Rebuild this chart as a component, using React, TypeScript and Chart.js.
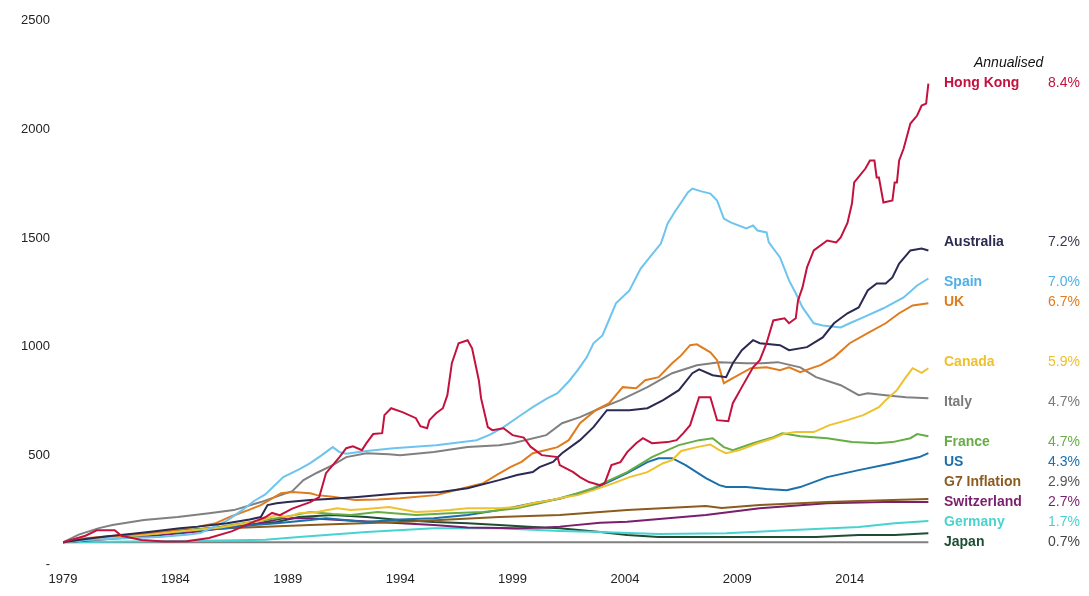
import React, { useEffect, useRef } from 'react';
import { Chart, registerables, ChartConfiguration, Plugin } from 'chart.js';

Chart.register(...registerables);

type Pt = [number, number];

const yearTicks = [1979, 1984, 1989, 1994, 1999, 2004, 2009, 2014];
const valueTicks = [0, 500, 1000, 1500, 2000, 2500];

const countries = ['Hong Kong', 'Australia', 'Spain', 'UK', 'Canada', 'Italy', 'France', 'US', 'G7 Inflation', 'Switzerland', 'Germany', 'Japan'];
const annualised = ['8.4%', '7.2%', '7.0%', '6.7%', '5.9%', '4.7%', '4.7%', '4.3%', '2.9%', '2.7%', '1.7%', '0.7%'];
// where each name sits on the right, in index units
const labelValues = [2215, 1480, 1296, 1204, 928, 745, 561, 469, 377, 285, 193, 101];

const hongKong: Pt[] = [
  [1979, 100], [1980, 130], [1980.5, 155], [1981.3, 155], [1981.6, 130], [1982.5, 110], [1983.5, 103], [1984.5, 105],
  [1985.5, 120], [1986.5, 150], [1987.5, 195], [1988, 215], [1988.3, 235], [1988.65, 225], [1989.2, 255], [1990, 285],
  [1990.4, 308], [1990.7, 418], [1991.3, 492], [1991.6, 533], [1991.9, 542], [1992.3, 524], [1992.5, 556], [1992.8, 598],
  [1993.2, 602], [1993.3, 685], [1993.6, 717], [1994.1, 699], [1994.7, 671], [1994.9, 634], [1995.2, 625], [1995.3, 662],
  [1995.6, 694], [1995.9, 717], [1996.1, 777], [1996.3, 924], [1996.6, 1016], [1997, 1030], [1997.2, 993], [1997.5, 846],
  [1997.6, 763], [1997.9, 630], [1998.1, 616], [1998.6, 625], [1999, 593], [1999.5, 582], [1999.8, 540], [2000.3, 501],
  [2001, 492], [2001.1, 455], [2001.7, 423], [2002, 400], [2002.4, 377], [2002.9, 363], [2003.1, 372], [2003.4, 455],
  [2003.8, 469], [2004.1, 515], [2004.5, 556], [2004.8, 579], [2005.2, 556], [2005.9, 561], [2006.3, 570], [2006.6, 602],
  [2006.9, 639], [2007.3, 768], [2007.8, 768], [2008.1, 662], [2008.6, 657], [2008.8, 740], [2009.2, 814], [2009.7, 905],
  [2010, 938], [2010.3, 1016], [2010.6, 1121], [2011.1, 1131], [2011.3, 1108], [2011.6, 1131], [2011.7, 1213], [2011.9, 1273],
  [2012.1, 1365], [2012.4, 1443], [2013, 1489], [2013.4, 1480], [2013.6, 1503], [2013.9, 1570], [2014.1, 1659], [2014.2, 1756],
  [2014.7, 1820], [2014.9, 1857], [2015.1, 1857], [2015.2, 1779], [2015.3, 1779], [2015.5, 1664], [2015.9, 1673], [2016, 1756],
  [2016.1, 1756], [2016.2, 1857], [2016.4, 1912], [2016.7, 2027], [2017, 2064], [2017.2, 2110], [2017.4, 2119], [2017.5, 2211],
];

const australia: Pt[] = [
  [1979, 100], [1980, 115], [1981, 128], [1982, 138], [1983, 150], [1984.2, 165], [1985, 172], [1986.3, 188],
  [1987.3, 205], [1987.8, 216], [1988.1, 271], [1988.5, 280], [1989, 285], [1990, 294], [1991, 300], [1992.1, 308],
  [1994, 326], [1995.8, 331], [1997, 349], [1998.4, 386], [1999.2, 410], [1999.9, 423], [2000.2, 446], [2000.8, 470],
  [2001.2, 510], [2002, 570], [2002.6, 630], [2003.2, 708], [2004.2, 708], [2005, 717], [2005.7, 754], [2006.4, 800],
  [2007, 878], [2007.3, 896], [2007.9, 869], [2008.5, 860], [2008.8, 924], [2009.2, 984], [2009.7, 1030], [2010, 1016],
  [2010.9, 1007], [2011.3, 984], [2012.1, 998], [2012.8, 1043], [2013.3, 1108], [2013.9, 1154], [2014.4, 1181], [2014.8, 1259],
  [2015.2, 1291], [2015.6, 1291], [2015.9, 1319], [2016.2, 1383], [2016.7, 1443], [2017.2, 1452], [2017.5, 1443],
];

const spain: Pt[] = [
  [1979, 100], [1980, 110], [1981, 115], [1982, 120], [1983.3, 124], [1984.5, 135], [1985.1, 142], [1985.8, 175],
  [1986.3, 200], [1987, 250], [1987.5, 290], [1988, 320], [1988.8, 400], [1989.5, 435], [1990, 464], [1990.5, 500],
  [1991, 538], [1991.3, 515], [1991.6, 508], [1992.5, 520], [1993.7, 533], [1995.6, 547], [1997.4, 570], [1998, 595],
  [1998.6, 630], [1999.3, 680], [1999.9, 722], [2000.5, 760], [2001, 786], [2001.5, 840], [2001.9, 892], [2002.3, 951],
  [2002.6, 1016], [2003, 1052], [2003.6, 1200], [2004.2, 1259], [2004.7, 1360], [2005.1, 1411], [2005.6, 1475], [2005.9, 1567],
  [2006.2, 1618], [2006.5, 1664], [2006.8, 1710], [2007, 1728], [2007.4, 1715], [2007.8, 1705], [2008.1, 1673], [2008.4, 1590],
  [2008.7, 1572], [2009.4, 1544], [2009.7, 1558], [2009.9, 1535], [2010.3, 1526], [2010.4, 1480], [2010.9, 1411], [2011.3, 1305],
  [2011.6, 1246], [2011.9, 1181], [2012.4, 1108], [2012.8, 1098], [2013.6, 1089], [2014, 1108], [2014.6, 1135], [2015.5, 1177],
  [2016.4, 1227], [2017, 1282], [2017.5, 1314],
];

const uk: Pt[] = [
  [1979, 100], [1980, 118], [1981, 128], [1982, 135], [1983, 145], [1984, 158], [1985, 172], [1985.8, 188],
  [1986.5, 220], [1987.3, 250], [1987.8, 271], [1988.7, 326], [1989.2, 331], [1990, 326], [1990.3, 317], [1991, 310],
  [1992, 294], [1993, 297], [1994, 303], [1995.6, 317], [1996.8, 349], [1997.7, 372], [1998.3, 410], [1998.9, 446],
  [1999.4, 470], [1999.9, 510], [2000.5, 525], [2001, 538], [2001.5, 570], [2002, 648], [2002.7, 708], [2003.3, 740],
  [2003.9, 814], [2004.5, 809], [2004.9, 846], [2005.5, 860], [2006.1, 924], [2006.5, 960], [2006.9, 1007], [2007.2, 1011],
  [2007.8, 974], [2008.1, 938], [2008.4, 832], [2008.8, 855], [2009.6, 901], [2010.3, 905], [2010.9, 892], [2011.3, 905],
  [2011.8, 883], [2012.4, 905], [2012.7, 915], [2013.3, 951], [2014, 1016], [2014.8, 1062], [2015.6, 1108], [2016.2, 1154],
  [2016.8, 1190], [2017.5, 1200],
];

const canada: Pt[] = [
  [1979, 100], [1980, 112], [1981, 122], [1982, 130], [1983, 138], [1984, 148], [1985, 158], [1986, 168],
  [1987, 185], [1987.8, 200], [1988.5, 225], [1989, 215], [1989.5, 234], [1990.3, 239], [1991.2, 257], [1991.8, 248],
  [1992.5, 253], [1993.5, 262], [1994.7, 239], [1995.5, 243], [1996.2, 248], [1997, 257], [1998.4, 257], [1999.2, 262],
  [1999.9, 280], [2000.7, 294], [2001.4, 308], [2001.9, 317], [2002.6, 340], [2003.5, 372], [2004.2, 400], [2005, 423],
  [2005.7, 464], [2006.1, 478], [2006.5, 520], [2007.2, 538], [2007.8, 550], [2008.2, 524], [2008.5, 510], [2009.1, 524],
  [2009.9, 556], [2010.6, 579], [2011.1, 600], [2011.6, 607], [2012.4, 607], [2013.1, 639], [2013.9, 662], [2014.6, 685],
  [2015.3, 722], [2015.6, 754], [2016.1, 800], [2016.5, 860], [2016.8, 901], [2017.2, 880], [2017.5, 901],
];

const italy: Pt[] = [
  [1979, 100], [1979.7, 135], [1980.6, 165], [1981.2, 179], [1982.6, 202], [1984.1, 216], [1985.5, 234], [1986.6, 248],
  [1987.8, 285], [1988.3, 303], [1989.2, 335], [1989.7, 386], [1990.3, 420], [1991, 455], [1991.6, 492], [1992.5, 510],
  [1993.5, 505], [1994, 501], [1995.5, 515], [1997, 538], [1998.4, 547], [1999, 556], [2000.5, 593], [2001.2, 648],
  [2002, 676], [2002.9, 717], [2003.8, 754], [2005, 814], [2006.1, 878], [2007.2, 915], [2008.2, 929], [2009.4, 924],
  [2010.1, 924], [2010.8, 929], [2011.8, 905], [2012.5, 860], [2013.6, 823], [2014.4, 777], [2014.8, 786], [2015.6, 777],
  [2016.5, 768], [2017.5, 763],
];

const france: Pt[] = [
  [1979, 100], [1980, 110], [1981, 118], [1981.8, 124], [1983, 138], [1984.8, 156], [1986, 172], [1987, 188],
  [1988.5, 211], [1989.3, 225], [1990, 239], [1991, 230], [1991.8, 225], [1993, 239], [1994.7, 225], [1996.2, 234],
  [1997.7, 239], [1999.2, 257], [2000.2, 280], [2001.1, 303], [2001.9, 326], [2002.6, 350], [2003.3, 385], [2004.1, 423],
  [2005.2, 492], [2006.4, 547], [2007.3, 570], [2007.9, 579], [2008.4, 538], [2008.8, 524], [2009.7, 556], [2010.6, 584],
  [2011, 602], [2011.8, 588], [2013, 579], [2014.1, 561], [2015.2, 556], [2015.9, 561], [2016.7, 579], [2017, 598],
  [2017.5, 588],
];

const us: Pt[] = [
  [1979, 100], [1980, 112], [1981, 122], [1982, 130], [1983.3, 142], [1985, 155], [1986.3, 165], [1987.5, 180],
  [1988.5, 188], [1990, 202], [1990.7, 211], [1992.5, 193], [1994, 205], [1995.5, 211], [1997, 225], [1998.4, 248],
  [1999.9, 280], [2001.1, 300], [2002.6, 345], [2004.1, 418], [2005, 469], [2005.5, 487], [2006.1, 487], [2006.7, 455],
  [2007.6, 395], [2008.2, 363], [2008.5, 354], [2009.4, 354], [2010.3, 345], [2011.2, 340], [2011.8, 354], [2013, 400],
  [2014.4, 432], [2015.9, 464], [2017.1, 492], [2017.5, 510],
];

const g7Inflation: Pt[] = [
  [1979, 100], [1980, 112], [1981, 124], [1982, 133], [1983.3, 147], [1986.3, 165], [1990, 179], [1994, 193],
  [1998.4, 216], [2001.1, 225], [2004.1, 248], [2007.6, 267], [2008.3, 258], [2010, 271], [2013, 285], [2015.9, 294],
  [2017.5, 299],
];

const switzerland: Pt[] = [
  [1979, 100], [1981, 115], [1983, 130], [1985, 150], [1986.5, 170], [1987.3, 179], [1988.8, 211], [1990, 211],
  [1991.3, 202], [1993, 193], [1995.5, 179], [1997, 168], [1999.2, 165], [2000.5, 168], [2001.1, 172], [2002.9, 190],
  [2004.1, 195], [2007.6, 225], [2010, 257], [2013, 280], [2015.5, 285], [2017.5, 285],
];

const germany: Pt[] = [
  [1979, 100], [1983, 105], [1986, 108], [1988, 112], [1989.5, 124], [1992.5, 147], [1995.5, 165], [1998.4, 165],
  [2001.1, 152], [2002.9, 147], [2005.5, 138], [2008.5, 142], [2011.5, 156], [2014.4, 170], [2016, 188], [2017.5, 198],
];

const japan: Pt[] = [
  [1979, 100], [1981, 125], [1983, 145], [1986.3, 170], [1988.5, 193], [1989.5, 216], [1991, 225], [1992.5, 216],
  [1994, 202], [1995.5, 193], [1997, 188], [1998.4, 179], [1999.9, 170], [2001.1, 165], [2002.9, 147], [2004.1, 133],
  [2005.5, 124], [2010, 124], [2012.5, 124], [2014.4, 133], [2016, 133], [2017.5, 142],
];

const baseline: Pt[] = [[1979, 100], [2017.5, 100]];

const seriesData = [hongKong, australia, spain, uk, canada, italy, france, us, g7Inflation, switzerland, germany, japan];
const colors = ['#c4123f', '#2b2a52', '#6cc4ef', '#e07c1e', '#eec12e', '#808080', '#67ad45', '#1a6fad', '#8c5b1e', '#7a1f6e', '#48d3cf', '#1e4d34'];
const nameColors = ['#c4123f', '#2b2a52', '#4fb0e6', '#e07c1e', '#eec12e', '#7a7a7a', '#67ad45', '#1a6fad', '#8c5b1e', '#7a1f6e', '#48d3cf', '#1e4d34'];
const pctColors = ['#c4123f', '#3a3a50', '#4fb0e6', '#e07c1e', '#eec12e', '#7a7a7a', '#67ad45', '#1a6fad', '#555555', '#7a1f6e', '#48d3cf', '#444444'];

const FONT = "Arial, 'Liberation Sans', sans-serif";

const rightLabels: Plugin<'line'> = {
  id: 'rightLabels',
  afterDraw(chart) {
    const { ctx } = chart;
    const y = chart.scales.y;
    ctx.save();
    ctx.textBaseline = 'middle';
    ctx.textAlign = 'left';
    ctx.fillStyle = '#111';
    ctx.font = `italic 14px ${FONT}`;
    ctx.fillText('Annualised', 974, y.getPixelForValue(2307));
    countries.forEach((name, i) => {
      const py = y.getPixelForValue(labelValues[i]);
      ctx.font = `bold 14px ${FONT}`;
      ctx.fillStyle = nameColors[i];
      ctx.fillText(name, 944, py);
      ctx.font = `14px ${FONT}`;
      ctx.fillStyle = pctColors[i];
      ctx.fillText(annualised[i], 1048, py);
    });
    ctx.restore();
  },
};

const App: React.FC = () => {
  const canvasRef = useRef<HTMLCanvasElement | null>(null);

  useEffect(() => {
    if (!canvasRef.current) return;

    const datasets = seriesData.map((pts, i) => ({
      label: countries[i],
      data: pts.map(([x, y]) => ({ x, y })),
      borderColor: colors[i],
      backgroundColor: colors[i],
      borderWidth: 2,
      pointRadius: 0,
      tension: 0,
      fill: false,
    }));
    datasets.push({
      label: 'Base',
      data: baseline.map(([x, y]) => ({ x, y })),
      borderColor: '#808080',
      backgroundColor: '#808080',
      borderWidth: 2,
      pointRadius: 0,
      tension: 0,
      fill: false,
    });

    const config: ChartConfiguration<'line'> = {
      type: 'line',
      data: { datasets },
      options: {
        animation: false,
        responsive: true,
        maintainAspectRatio: false,
        layout: { padding: { top: 20, right: 155, bottom: 0, left: 0 } },
        scales: {
          x: {
            type: 'linear',
            min: 1979,
            max: 2017.75,
            grid: { display: false, drawTicks: false },
            border: { display: false },
            afterBuildTicks: (axis) => {
              axis.ticks = yearTicks.map(v => ({ value: v }));
            },
            afterFit: (axis) => {
              axis.height = 32;
            },
            ticks: {
              padding: 8,
              maxRotation: 0,
              autoSkip: false,
              color: '#222',
              font: { size: 13, family: FONT },
              callback: (v) => String(v),
            },
          },
          y: {
            min: 0,
            max: 2500,
            grid: { display: false, drawTicks: false },
            border: { display: false },
            afterBuildTicks: (axis) => {
              axis.ticks = valueTicks.map(v => ({ value: v }));
            },
            afterFit: (axis) => {
              axis.width = 63;
            },
            ticks: {
              padding: 13,
              color: '#222',
              font: { size: 13, family: FONT },
              callback: (v) => (Number(v) === 0 ? '-' : String(v)),
            },
          },
        },
        plugins: {
          legend: { display: false },
          tooltip: { enabled: false },
        },
      },
      plugins: [rightLabels],
    };

    const chart = new Chart(canvasRef.current, config);
    return () => {
      chart.destroy();
    };
  }, []);

  return (
    <div style={{ position: 'fixed', left: 0, top: 0, width: 1089, height: 596, background: '#fff' }}>
      <canvas ref={canvasRef}></canvas>
    </div>
  );
};

export default App;
